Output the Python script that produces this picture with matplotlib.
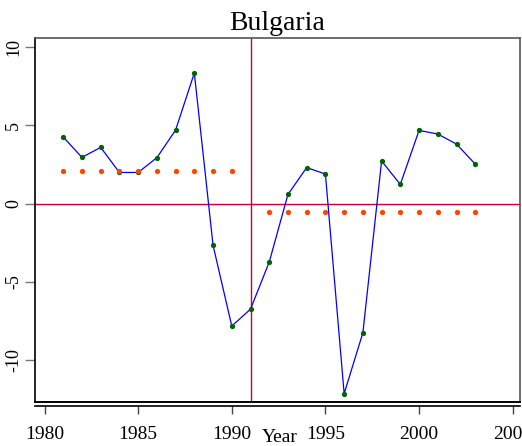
import matplotlib
matplotlib.use("Agg")
import matplotlib.pyplot as plt

years = list(range(1981, 2004))
growth = [4.24, 2.94, 3.58, 1.98, 1.98, 2.92, 4.68, 8.32, -2.66, -7.81, -6.73,
          -3.73, 0.58, 2.29, 1.88, -12.12, -8.24, 2.71, 1.22, 4.66, 4.43, 3.79, 2.51]
pre_years = list(range(1981, 1991))
pre_mean = [2.05] * len(pre_years)
post_years = list(range(1992, 2004))
post_mean = [-0.51] * len(post_years)
break_year = 1991
xticks = [1980, 1985, 1990, 1995, 2000, 2005]
yticks = [-10, -5, 0, 5, 10]
title = "Bulgaria"
xlabel = "Year"

plt.rcParams['font.family'] = ['Liberation Serif', 'DejaVu Serif']

fig = plt.figure(figsize=(5.22, 4.46), dpi=100)
ax = fig.add_axes([34.5/522, 1-402/446, (520-34.5)/522, (402-38)/446])

for s in ['top', 'right']:
    ax.spines[s].set_color('#555555')
    ax.spines[s].set_linewidth(1.2)
ax.spines['left'].set_color('black')
ax.spines['left'].set_linewidth(1.2)
ax.spines['bottom'].set_color('black')
ax.spines['bottom'].set_linewidth(1.2)
ax.spines['bottom'].set_position(('outward', 3))

ax.axhline(0, color='#cc0033', lw=1.0, zorder=1)
ax.axvline(break_year, color='#cc0033', lw=1.0, zorder=1)
ax.plot(years, growth, color='#0000ff', lw=0.9, zorder=2)
ax.plot(years, growth, 'o', color='#006400', ms=3.8, mec='none', zorder=3)
ax.plot(pre_years, pre_mean, 'o', color='#ff4500', ms=3.8, mec='none', zorder=3)
ax.plot(post_years, post_mean, 'o', color='#ff4500', ms=3.8, mec='none', zorder=3)

ax.set_xlim(1979.466, 2005.39)
ax.set_ylim(-12.65, 10.55)
ax.set_xticks(xticks)
ax.set_yticks(yticks)
ax.set_xticklabels([str(t) for t in xticks])
ax.set_yticklabels([str(t) for t in yticks], rotation=90, va='center')
ax.axhline(-12.65, color='black', lw=1.4, clip_on=False, zorder=5)

ax.tick_params(axis='x', length=6, width=1, color='#444444', pad=8, labelsize=14)
ax.tick_params(axis='y', length=7, width=1, color='#777777', pad=2, labelsize=13)

ax.set_title(title, fontsize=20, pad=6)
fig.text(280/522, 1-438/446, xlabel, fontsize=14, ha='center', va='center')

fig.savefig("out.png", dpi=100, facecolor='white')
